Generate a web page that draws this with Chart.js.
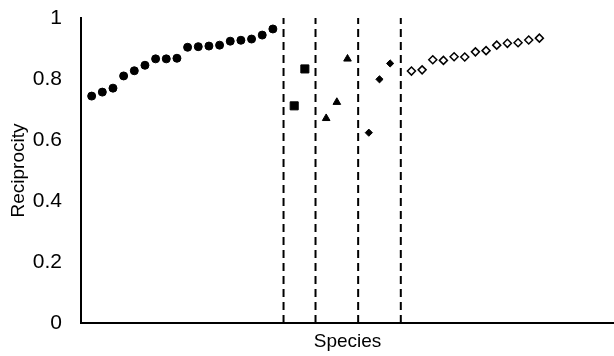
<!DOCTYPE html>
<html>
<head>
<meta charset="utf-8">
<script src="https://cdn.jsdelivr.net/npm/chart.js@4.4.1/dist/chart.umd.min.js"></script>
<style>
  html, body { margin: 0; padding: 0; background: #fff; }
  #wrap { width: 614px; height: 356px; position: relative; }
</style>
</head>
<body>
<div id="wrap"><canvas id="chart"></canvas></div>
<script>
// Posiciones en el eje X (especies) y valores de reciprocidad
const circleX = [1, 2, 3, 4, 5, 6, 7, 8, 9, 10, 11, 12, 13, 14, 15, 16, 17, 18];
const circleY = [0.744, 0.757, 0.770, 0.810, 0.827, 0.845, 0.866, 0.866, 0.868, 0.904, 0.906, 0.908, 0.911, 0.924, 0.927, 0.931, 0.944, 0.964];

const squareX = [20, 21];
const squareY = [0.712, 0.833];

const triangleX = [23, 24, 25];
const triangleY = [0.671, 0.724, 0.866];

const diamondX = [27, 28, 29];
const diamondY = [0.624, 0.799, 0.851];

const hollowX = [31, 32, 33, 34, 35, 36, 37, 38, 39, 40, 41, 42, 43];
const hollowY = [0.826, 0.830, 0.863, 0.861, 0.873, 0.872, 0.889, 0.893, 0.911, 0.917, 0.919, 0.928, 0.934];

// Separadores verticales
const dividerX = [19, 22, 26, 30];
const dividerRange = [0, 1];

const yTicks = [0, 0.2, 0.4, 0.6, 0.8, 1];

const FONT = "'Liberation Sans', Arial, sans-serif";

function toPoints(xs, ys) {
  return xs.map((x, i) => ({ x: x, y: ys[i] }));
}

function markerSet(xs, ys, style, radius, fill) {
  return {
    data: toPoints(xs, ys),
    pointStyle: style,
    pointRadius: radius,
    pointBackgroundColor: fill,
    pointBorderColor: "#000",
    pointBorderWidth: 1,
    showLine: false
  };
}

const datasets = [
  markerSet(circleX, circleY, "circle", 4, "#000"),
  markerSet(squareX, squareY, "rect", 5.7, "#000"),
  markerSet(triangleX, triangleY, "triangle", 4.4, "#000"),
  markerSet(diamondX, diamondY, "rectRot", 3.6, "#000"),
  Object.assign(markerSet(hollowX, hollowY, "rectRot", 4, "#fff"), { pointBorderWidth: 1.5 })
];

dividerX.forEach(x => {
  datasets.push({
    data: dividerRange.map(y => ({ x: x, y: y })),
    showLine: true,
    borderColor: "#000",
    borderWidth: 2,
    borderDash: [8, 5],
    pointRadius: 0
  });
});

new Chart(document.getElementById("chart"), {
  type: "scatter",
  data: { datasets: datasets },
  options: {
    responsive: true,
    maintainAspectRatio: false,
    animation: false,
    layout: { autoPadding: false, padding: { top: 18, right: 0, bottom: 0, left: 0 } },
    plugins: {
      legend: { display: false },
      tooltip: { enabled: false }
    },
    scales: {
      x: {
        type: "linear",
        min: 0,
        max: 50,
        grid: { display: false },
        border: { display: true, color: "#000", width: 2 },
        ticks: { display: false },
        title: {
          display: true,
          text: "Species",
          color: "#000",
          font: { family: FONT, size: 19 },
          padding: { top: 0, bottom: 3 }
        },
        afterFit: s => { s.height = 33; }
      },
      y: {
        min: 0,
        max: 1,
        // sin lineas de cuadricula; tickLength solo separa las etiquetas del eje
        grid: { display: false, drawTicks: true, tickLength: 19 },
        border: { display: true, color: "#000", width: 2 },
        afterBuildTicks: s => { s.ticks = yTicks.map(v => ({ value: v })); },
        ticks: {
          color: "#000",
          padding: 0,
          font: { family: FONT, size: 21 },
          callback: value => String(value)
        },
        title: {
          display: true,
          text: "Reciprocity",
          color: "#000",
          font: { family: FONT, size: 19 },
          padding: { top: 7, bottom: 0 }
        },
        afterFit: s => { s.width = 81; }
      }
    }
  }
});
</script>
</body>
</html>
